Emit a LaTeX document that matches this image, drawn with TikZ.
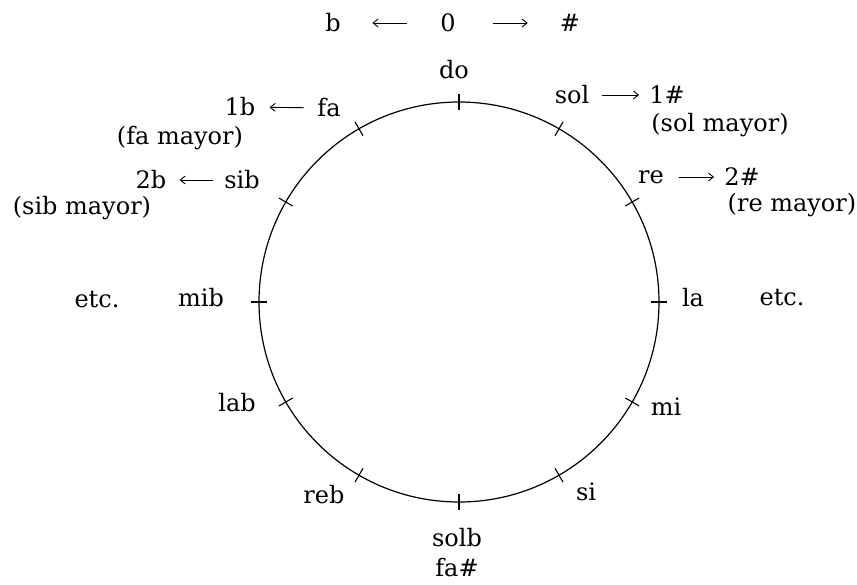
\documentclass[tikz,border=0pt]{standalone}
\usepackage{fontspec}
\setmainfont{DejaVu Serif}
\usetikzlibrary{arrows.meta,calc}
\begin{document}
\begin{tikzpicture}[x=1pt,y=-1pt,
  lbl/.style={inner sep=0pt,font=\fontsize{24}{26}\selectfont},
  arr/.style={-{Straight Barb[length=5pt,width=8pt]},line width=0.9pt},
  tickmark/.style={line width=1.1pt}]
\useasboundingbox (0,0) rectangle (857,584);
\coordinate (C) at (459,302);
\draw[line width=1.2pt] (C) circle[radius=200];
\foreach \a in {0,30,...,330}
  \draw[tickmark] ($(C)+(\a:192)$) -- ($(C)+(\a:208)$);
% top line
\node[lbl] (b) at (333,23) {b};
\node[lbl] (zero) at (448,23) {0};
\node[lbl] (sharp) at (570,23) {\#};
% labels
\node[lbl] (do) at (454,70) {do};
\node[lbl] (sol) at (572,95) {sol};
\node[lbl] (s1) at (667,95) {1\#};
\node[lbl] (solm) at (720,125) {(sol mayor)};
\node[lbl] (re) at (651,177) {re};
\node[lbl] (s2) at (742,177) {2\#};
\node[lbl] (rem) at (792,205) {(re mayor)};
\node[lbl] (fa) at (329,108) {fa};
\node[lbl] (b1) at (240,107) {1b};
\node[lbl] (fam) at (180,138) {(fa mayor)};
\node[lbl] (sib) at (242,180) {sib};
\node[lbl] (b2) at (151,180) {2b};
\node[lbl] (sibm) at (82,208) {(sib mayor)};
\node[lbl] (etcl) at (97,300) {etc.};
\node[lbl] (mib) at (201,298) {mib};
\node[lbl] (la) at (693,298) {la};
\node[lbl] (etcr) at (782,298) {etc.};
\node[lbl] (lab) at (237,403) {lab};
\node[lbl] (mi) at (666,407) {mi};
\node[lbl] (reb) at (324,495) {reb};
\node[lbl] (si) at (586,492) {si};
\node[lbl] (solb) at (457,538) {solb};
\node[lbl] (fas) at (457,568) {fa\#};
% arrows
\draw[arr, shorten <=33pt, shorten >=31.5pt] (zero) -- (b);
\draw[arr, shorten <=37pt, shorten >=32pt] (zero) -- (sharp);
\draw[arr, shorten <=13pt, shorten >=10pt] (sol) -- (s1);
\draw[arr, shorten <=14.5pt, shorten >=10pt] (re) -- (s2);
\draw[arr, shorten <=13pt, shorten >=14pt] (fa) -- (b1);
\draw[arr, shorten <=11.5pt, shorten >=13pt] (sib) -- (b2);
\end{tikzpicture}
\end{document}
